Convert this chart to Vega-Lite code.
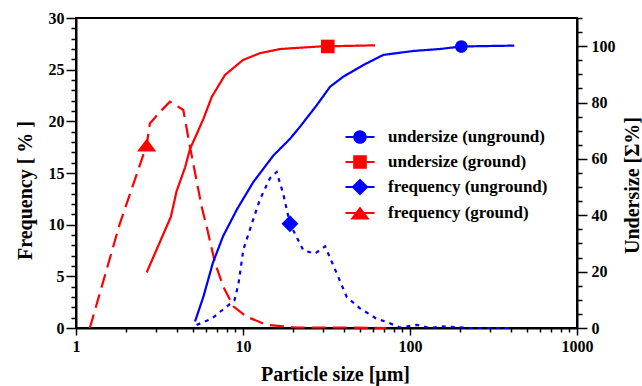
{
  "$schema": "https://vega.github.io/schema/vega-lite/v6.json",
  "width": 501,
  "height": 310,
  "autosize": {"type": "none"},
  "padding": {"left": 76, "top": 18, "right": 65, "bottom": 58},
  "background": "white",
  "config": {
    "font": "Liberation Serif, Times New Roman, Times, DejaVu Serif, serif",
    "view": {"stroke": "black", "strokeWidth": 2},
    "axis": {
      "grid": false,
      "domainColor": "black",
      "domainWidth": 2,
      "tickColor": "black",
      "tickWidth": 1.5,
      "labelFont": "Liberation Serif, Times New Roman, Times, DejaVu Serif, serif",
      "labelFontWeight": "bold",
      "labelFontSize": 16,
      "labelColor": "black",
      "titleFont": "Liberation Serif, Times New Roman, Times, DejaVu Serif, serif",
      "titleFontWeight": "bold",
      "titleFontSize": 20,
      "titleColor": "black"
    },
    "legend": {
      "labelFont": "Liberation Serif, Times New Roman, Times, DejaVu Serif, serif",
      "labelFontWeight": "bold",
      "labelFontSize": 17,
      "labelColor": "black"
    }
  },
  "datasets": {
    "curves": [
      {"s": "frequency (ground)", "x": 1.21, "v": 0},
      {"s": "frequency (ground)", "x": 1.83, "v": 10.1},
      {"s": "frequency (ground)", "x": 2.65, "v": 17.7},
      {"s": "frequency (ground)", "x": 2.77, "v": 19.8},
      {"s": "frequency (ground)", "x": 3.18, "v": 20.9},
      {"s": "frequency (ground)", "x": 3.65, "v": 21.9},
      {"s": "frequency (ground)", "x": 3.92, "v": 21.6},
      {"s": "frequency (ground)", "x": 4.39, "v": 21.1},
      {"s": "frequency (ground)", "x": 4.82, "v": 17.5},
      {"s": "frequency (ground)", "x": 5.66, "v": 11.7},
      {"s": "frequency (ground)", "x": 6.06, "v": 9.8},
      {"s": "frequency (ground)", "x": 6.8, "v": 6.3},
      {"s": "frequency (ground)", "x": 7.62, "v": 4.0},
      {"s": "frequency (ground)", "x": 8.75, "v": 2.1},
      {"s": "frequency (ground)", "x": 10.5, "v": 1.1},
      {"s": "frequency (ground)", "x": 13.9, "v": 0.3},
      {"s": "frequency (ground)", "x": 20.9, "v": 0.05},
      {"s": "frequency (ground)", "x": 40, "v": 0.05},
      {"s": "frequency (ground)", "x": 72, "v": 0},
      {"s": "frequency (unground)", "x": 5.27, "v": 0.3},
      {"s": "frequency (unground)", "x": 6.5, "v": 0.9},
      {"s": "frequency (unground)", "x": 8.9, "v": 2.7},
      {"s": "frequency (unground)", "x": 9.4, "v": 4.3},
      {"s": "frequency (unground)", "x": 10.05, "v": 7.6},
      {"s": "frequency (unground)", "x": 11.3, "v": 10.1},
      {"s": "frequency (unground)", "x": 12.6, "v": 12.4},
      {"s": "frequency (unground)", "x": 14.5, "v": 14.5},
      {"s": "frequency (unground)", "x": 15.9, "v": 15.1},
      {"s": "frequency (unground)", "x": 17.4, "v": 13.0},
      {"s": "frequency (unground)", "x": 19.1, "v": 10.1},
      {"s": "frequency (unground)", "x": 23, "v": 7.5},
      {"s": "frequency (unground)", "x": 27, "v": 7.2},
      {"s": "frequency (unground)", "x": 31, "v": 7.9},
      {"s": "frequency (unground)", "x": 36.4, "v": 5.3},
      {"s": "frequency (unground)", "x": 41.8, "v": 3.0},
      {"s": "frequency (unground)", "x": 50.2, "v": 1.9},
      {"s": "frequency (unground)", "x": 63, "v": 0.9},
      {"s": "frequency (unground)", "x": 72, "v": 0.6},
      {"s": "frequency (unground)", "x": 87, "v": 0.05},
      {"s": "frequency (unground)", "x": 110, "v": 0.3},
      {"s": "frequency (unground)", "x": 132, "v": 0},
      {"s": "frequency (unground)", "x": 158, "v": 0.15},
      {"s": "frequency (unground)", "x": 228, "v": 0},
      {"s": "frequency (unground)", "x": 400, "v": 0},
      {"s": "undersize (ground)", "x": 2.65, "v": 19.7},
      {"s": "undersize (ground)", "x": 3.7, "v": 39.5},
      {"s": "undersize (ground)", "x": 4.0, "v": 48.5},
      {"s": "undersize (ground)", "x": 4.5, "v": 57},
      {"s": "undersize (ground)", "x": 4.82, "v": 63.6},
      {"s": "undersize (ground)", "x": 5.3, "v": 69},
      {"s": "undersize (ground)", "x": 5.8, "v": 74.3},
      {"s": "undersize (ground)", "x": 6.5, "v": 82.0},
      {"s": "undersize (ground)", "x": 7.8, "v": 89.8},
      {"s": "undersize (ground)", "x": 10.0, "v": 95.1},
      {"s": "undersize (ground)", "x": 12.6, "v": 97.5},
      {"s": "undersize (ground)", "x": 16.7, "v": 99.0},
      {"s": "undersize (ground)", "x": 28.9, "v": 99.9},
      {"s": "undersize (ground)", "x": 61.7, "v": 100.3},
      {"s": "undersize (unground)", "x": 5.16, "v": 2.3},
      {"s": "undersize (unground)", "x": 5.8, "v": 11.2},
      {"s": "undersize (unground)", "x": 6.6, "v": 23.1},
      {"s": "undersize (unground)", "x": 7.6, "v": 32.6},
      {"s": "undersize (unground)", "x": 9.2, "v": 42.1},
      {"s": "undersize (unground)", "x": 11.5, "v": 51.7},
      {"s": "undersize (unground)", "x": 15.2, "v": 61.2},
      {"s": "undersize (unground)", "x": 19.1, "v": 67.1},
      {"s": "undersize (unground)", "x": 22, "v": 71.5},
      {"s": "undersize (unground)", "x": 27.6, "v": 79},
      {"s": "undersize (unground)", "x": 33.2, "v": 85.6},
      {"s": "undersize (unground)", "x": 39.9, "v": 89.2},
      {"s": "undersize (unground)", "x": 52.5, "v": 93.3},
      {"s": "undersize (unground)", "x": 69.2, "v": 96.9},
      {"s": "undersize (unground)", "x": 104.7, "v": 98.3},
      {"s": "undersize (unground)", "x": 151, "v": 99},
      {"s": "undersize (unground)", "x": 203, "v": 99.9},
      {"s": "undersize (unground)", "x": 421, "v": 100.2}
    ],
    "markers": [
      {"s": "undersize (unground)", "x": 203, "v": 99.9},
      {"s": "undersize (ground)", "x": 32.2, "v": 99.9},
      {"s": "frequency (unground)", "x": 19.1, "v": 10.1},
      {"s": "frequency (ground)", "x": 2.65, "v": 17.7}
    ]
  },
  "encoding": {
    "x": {
      "field": "x",
      "type": "quantitative",
      "scale": {"type": "log", "domain": [1, 1000], "nice": false},
      "axis": {
        "title": "Particle size [μm]",
        "values": [1, 2, 3, 4, 5, 6, 7, 8, 9, 10, 20, 30, 40, 50, 60, 70, 80, 90, 100, 200, 300, 400, 500, 600, 700, 800, 900, 1000],
        "labelExpr": "indexof([1, 10, 100, 1000], datum.value) >= 0 ? '' + datum.value : ''",
        "tickSize": {"condition": {"test": "indexof([1, 10, 100, 1000], datum.value) >= 0", "value": 7}, "value": 4},
        "labelPadding": 3,
        "labelFlush": false,
        "labelOverlap": false,
        "titleX": 259,
        "titleY": 52,
        "titleBaseline": "alphabetic"
      }
    }
  },
  "layer": [
    {
      "encoding": {
        "y": {
          "field": "v",
          "type": "quantitative",
          "scale": {"domain": [0, 30], "nice": false, "zero": false},
          "axis": {
            "orient": "left",
            "title": "Frequency [ % ]",
            "values": [0, 1, 2, 3, 4, 5, 6, 7, 8, 9, 10, 11, 12, 13, 14, 15, 16, 17, 18, 19, 20, 21, 22, 23, 24, 25, 26, 27, 28, 29, 30],
            "labelExpr": "datum.value % 5 === 0 ? datum.label : ''",
            "tickSize": {"condition": {"test": "datum.value % 5 === 0", "value": 10}, "value": 5},
            "labelPadding": 2,
            "labelFlush": false,
            "labelOverlap": false,
            "titleX": -51,
            "titleY": 172,
            "titleAngle": 270,
            "titleBaseline": "middle",
            "titleAlign": "center"
          }
        }
      },
      "layer": [
        {
          "data": {"name": "curves"},
          "transform": [{"filter": "indexof(datum.s, 'frequency') === 0"}],
          "mark": {"type": "line", "strokeWidth": 2.2},
          "encoding": {
            "color": {
              "field": "s",
              "type": "nominal",
              "scale": {
                "domain": ["undersize (unground)", "undersize (ground)", "frequency (unground)", "frequency (ground)"],
                "range": ["#0000ff", "#ff0000", "#0000ff", "#ff0000"]
              },
              "legend": {"title": null, "orient": "none", "legendX": 274, "legendY": 109, "padding": 0, "symbolSize": 400, "symbolStrokeWidth": 0, "symbolOpacity": 1, "labelOffset": 18, "rowPadding": 7}
            },
            "strokeDash": {
              "field": "s",
              "type": "nominal",
              "scale": {
                "domain": ["undersize (unground)", "undersize (ground)", "frequency (unground)", "frequency (ground)"],
                "range": [[1, 0], [1, 0], [4, 5], [14, 7]]
              },
              "legend": null
            }
          }
        },
        {
          "data": {"name": "markers"},
          "transform": [{"filter": "datum.s === 'frequency (unground)'"}],
          "mark": {"type": "point", "filled": true, "opacity": 1, "size": 400, "color": "#0000ff", "shape": "M0,-0.85L0.85,0L0,0.85L-0.85,0Z"}
        },
        {
          "data": {"name": "markers"},
          "transform": [{"filter": "datum.s === 'frequency (ground)'"}],
          "mark": {"type": "point", "filled": true, "opacity": 1, "size": 400, "color": "#ff0000", "shape": "M0,-0.64L0.97,0.64H-0.97Z"}
        },
        {
          "data": {"name": "markers"},
          "mark": {"type": "point", "filled": true, "opacity": 0, "size": 400, "clip": true},
          "encoding": {
            "color": {
              "field": "s",
              "type": "nominal",
              "scale": {
                "domain": ["undersize (unground)", "undersize (ground)", "frequency (unground)", "frequency (ground)"],
                "range": ["#0000ff", "#ff0000", "#0000ff", "#ff0000"]
              },
              "legend": {"title": null, "orient": "none", "legendX": 274, "legendY": 109, "padding": 0, "symbolSize": 400, "symbolStrokeWidth": 0, "symbolOpacity": 1, "labelOffset": 18, "rowPadding": 7}
            },
            "shape": {
              "field": "s",
              "type": "nominal",
              "scale": {
                "domain": ["undersize (unground)", "undersize (ground)", "frequency (unground)", "frequency (ground)"],
                "range": [
                  "M-1.45,-0.11H1.45V0.11H-1.45Z M0.68,0A0.68,0.68,0,1,1,-0.68,0A0.68,0.68,0,1,1,0.68,0Z",
                  "M-1.45,-0.11H1.45V0.11H-1.45Z M-0.68,-0.68H0.68V0.68H-0.68Z",
                  "M-1.45,-0.11H1.45V0.11H-1.45Z M0,-0.85L0.85,0L0,0.85L-0.85,0Z",
                  "M-1.45,-0.11H1.45V0.11H-1.45Z M0,-0.64L0.97,0.64H-0.97Z"
                ]
              },
              "legend": {"title": null, "orient": "none", "legendX": 274, "legendY": 109, "padding": 0, "symbolSize": 400, "symbolStrokeWidth": 0, "symbolOpacity": 1, "labelOffset": 18, "rowPadding": 7}
            }
          }
        }
      ]
    },
    {
      "encoding": {
        "y": {
          "field": "v",
          "type": "quantitative",
          "scale": {"domain": [0, 110], "nice": false, "zero": false},
          "axis": {
            "orient": "right",
            "title": "Undersize [Σ%]",
            "values": [0, 5, 10, 15, 20, 25, 30, 35, 40, 45, 50, 55, 60, 65, 70, 75, 80, 85, 90, 95, 100, 105, 110],
            "labelExpr": "datum.value % 20 === 0 ? datum.label : ''",
            "tickSize": {"condition": {"test": "datum.value % 20 === 0", "value": 10}, "value": 5},
            "labelPadding": 4,
            "labelFlush": false,
            "labelOverlap": false,
            "titleX": 55,
            "titleY": 167,
            "titleAngle": 270,
            "titleBaseline": "middle",
            "titleAlign": "center"
          }
        }
      },
      "layer": [
        {
          "data": {"name": "curves"},
          "transform": [{"filter": "indexof(datum.s, 'undersize') === 0"}],
          "mark": {"type": "line", "strokeWidth": 2.2},
          "encoding": {
            "color": {
              "field": "s",
              "type": "nominal",
              "scale": {
                "domain": ["undersize (unground)", "undersize (ground)", "frequency (unground)", "frequency (ground)"],
                "range": ["#0000ff", "#ff0000", "#0000ff", "#ff0000"]
              },
              "legend": {"title": null, "orient": "none", "legendX": 274, "legendY": 109, "padding": 0, "symbolSize": 400, "symbolStrokeWidth": 0, "symbolOpacity": 1, "labelOffset": 18, "rowPadding": 7}
            },
            "strokeDash": {
              "field": "s",
              "type": "nominal",
              "scale": {
                "domain": ["undersize (unground)", "undersize (ground)", "frequency (unground)", "frequency (ground)"],
                "range": [[1, 0], [1, 0], [4, 5], [14, 7]]
              },
              "legend": null
            }
          }
        },
        {
          "data": {"name": "markers"},
          "transform": [{"filter": "datum.s === 'undersize (unground)'"}],
          "mark": {"type": "point", "filled": true, "opacity": 1, "size": 400, "color": "#0000ff", "shape": "M0.63,0A0.63,0.63,0,1,1,-0.63,0A0.63,0.63,0,1,1,0.63,0Z"}
        },
        {
          "data": {"name": "markers"},
          "transform": [{"filter": "datum.s === 'undersize (ground)'"}],
          "mark": {"type": "point", "filled": true, "opacity": 1, "size": 400, "color": "#ff0000", "shape": "M-0.68,-0.68H0.68V0.68H-0.68Z"}
        }
      ]
    }
  ],
  "resolve": {"scale": {"y": "independent"}}
}
